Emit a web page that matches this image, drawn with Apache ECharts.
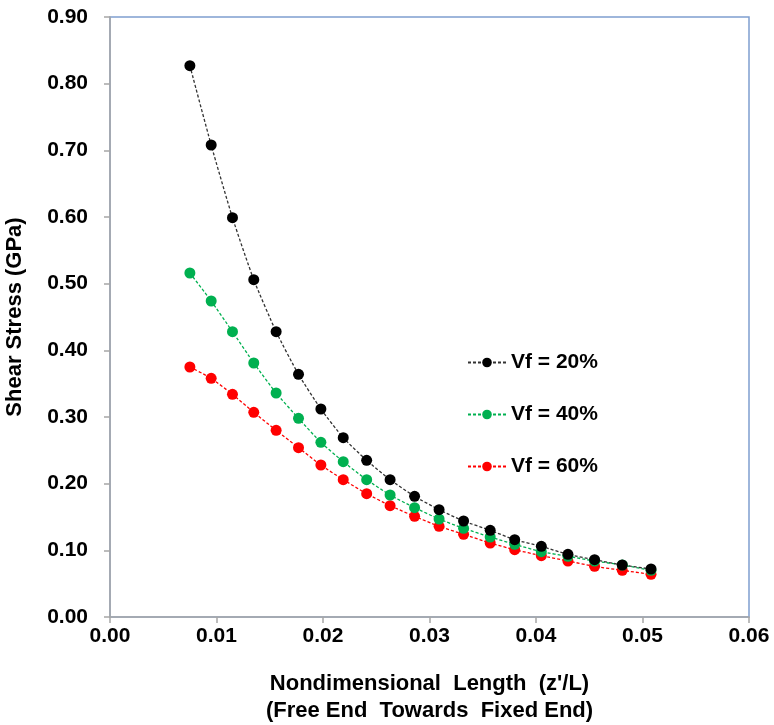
<!DOCTYPE html>
<html>
<head>
<meta charset="utf-8">
<script src="https://cdn.jsdelivr.net/npm/echarts@6/dist/echarts.min.js"></script>
<style>
html,body{margin:0;padding:0;background:#fff;}
#chart{width:774px;height:725px;}
</style>
</head>
<body>
<div id="chart"></div>
<script>
var xValues = [0.0075, 0.0095, 0.0115, 0.0135, 0.0156, 0.0177, 0.0198, 0.0219, 0.0241, 0.0263, 0.0286, 0.0309, 0.0332, 0.0357, 0.0380, 0.0405, 0.0430, 0.0455, 0.0481, 0.0508];
var vf20 = [0.827, 0.708, 0.599, 0.506, 0.428, 0.364, 0.312, 0.269, 0.235, 0.206, 0.181, 0.161, 0.144, 0.130, 0.116, 0.106, 0.094, 0.086, 0.078, 0.072];
var vf40 = [0.516, 0.474, 0.428, 0.381, 0.336, 0.298, 0.262, 0.233, 0.206, 0.183, 0.164, 0.147, 0.133, 0.120, 0.109, 0.098, 0.091, 0.084, 0.078, 0.070];
var vf60 = [0.375, 0.358, 0.334, 0.307, 0.280, 0.254, 0.228, 0.206, 0.185, 0.167, 0.151, 0.136, 0.124, 0.111, 0.101, 0.092, 0.084, 0.076, 0.070, 0.064];
var seriesNames = ['Vf = 20%', 'Vf = 40%', 'Vf = 60%'];
var seriesColors = ['#000000', '#00B050', '#FF0000'];
var lineColors = ['#333333', '#00B050', '#FF0000'];
var xTicks = {min: 0, max: 0.06, interval: 0.01};
var yTicks = {min: 0, max: 0.9, interval: 0.1};
var xName = "Nondimensional  Length  (z'/L)\n(Free End  Towards  Fixed End)";
var yName = 'Shear Stress (GPa)';

function pairs(xs, ys) { return xs.map(function (x, i) { return [x, ys[i]]; }); }
var allValues = [vf20, vf40, vf60];

var font = 'Arial, "Liberation Sans", sans-serif';
var chart = echarts.init(document.getElementById('chart'), null, {renderer: 'canvas'});
var option = {
  backgroundColor: '#ffffff',
  animation: false,
  grid: {left: 110, top: 17, right: 25, bottom: 108, containLabel: false, outerBoundsMode: 'none',
         show: true, borderColor: '#7F9FD0', borderWidth: 1.5, backgroundColor: 'transparent'},
  legend: {
    orient: 'vertical', left: 462, top: 347,
    itemWidth: 38, itemHeight: 12, itemGap: 31,
    textStyle: {fontFamily: font, fontWeight: 'bold', fontSize: 21, color: '#000'},
    data: seriesNames
  },
  xAxis: {
    type: 'value', min: xTicks.min, max: xTicks.max, interval: xTicks.interval,
    axisLine: {lineStyle: {color: '#A6A6A6', width: 1.5}},
    axisTick: {show: true, inside: false, length: 6, lineStyle: {color: '#A6A6A6', width: 1.5}},
    splitLine: {show: false},
    axisLabel: {margin: 9, fontFamily: font, fontWeight: 'bold', fontSize: 21, color: '#000', formatter: function (v) { return v.toFixed(2); }},
    name: xName, nameLocation: 'middle', nameGap: 53,
    nameTextStyle: {fontFamily: font, fontWeight: 'bold', fontSize: 22, color: '#000', lineHeight: 27}
  },
  yAxis: {
    type: 'value', min: yTicks.min, max: yTicks.max, interval: yTicks.interval,
    axisLine: {lineStyle: {color: '#A6A6A6', width: 1.5}},
    axisTick: {show: true, inside: false, length: 6, lineStyle: {color: '#A6A6A6', width: 1.5}},
    splitLine: {show: false},
    axisLabel: {margin: 22, fontFamily: font, fontWeight: 'bold', fontSize: 21, color: '#000', formatter: function (v) { return v.toFixed(2); }},
    name: yName, nameLocation: 'middle', nameGap: 84,
    nameTextStyle: {fontFamily: font, fontWeight: 'bold', fontSize: 22, color: '#000'}
  },
  series: seriesNames.map(function (n, i) {
    return {
      name: n, type: 'line', data: pairs(xValues, allValues[i]),
      smooth: 0.2, symbol: 'circle', symbolSize: 11,
      itemStyle: {color: seriesColors[i]},
      lineStyle: {color: lineColors[i], width: 1.3, type: [3, 2]},
      z: 3 - i
    };
  })
};
chart.setOption(option);
</script>
</body>
</html>
